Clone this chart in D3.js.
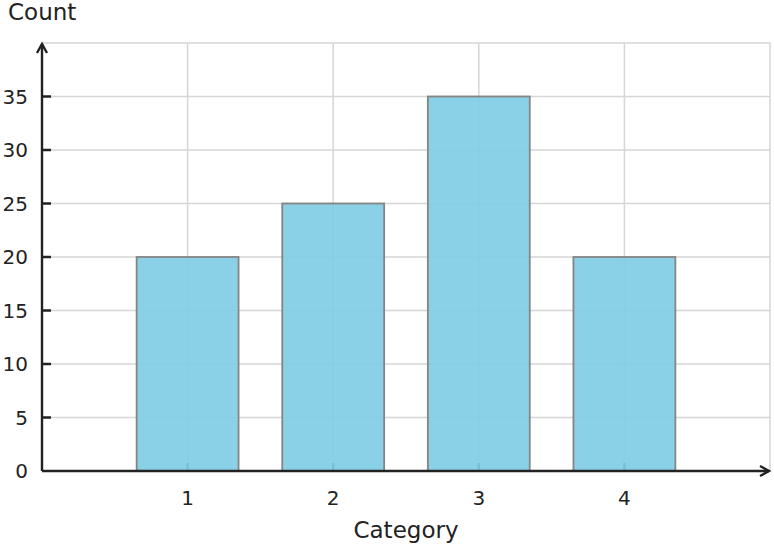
<!DOCTYPE html>
<html>
<head>
<meta charset="utf-8">
<script src="https://cdn.jsdelivr.net/npm/d3@7"></script>
<style>
  body { margin: 0; background: #fff; }
  text { font-family: "DejaVu Sans", sans-serif; fill: #222; }
</style>
</head>
<body>
<svg id="chart" width="774" height="548"></svg>
<script>
var categories = [1, 2, 3, 4];
var counts = [20, 25, 35, 20];
var yTicks = [0, 5, 10, 15, 20, 25, 30, 35];

var margin = {left: 42, top: 43, right: 4, bottom: 77};
var width = 774 - margin.left - margin.right;
var height = 548 - margin.top - margin.bottom;

var svg = d3.select('#chart');
var g = svg.append('g')
    .attr('transform', 'translate(' + margin.left + ',' + margin.top + ')');

var x = d3.scaleLinear().domain([0, 5]).range([0, width]);
var y = d3.scaleLinear().domain([0, 40]).range([height, 0]);

// grid
g.append('g').selectAll('line')
    .data(yTicks.slice(1)).enter().append('line')
    .attr('x1', 0).attr('x2', width)
    .attr('y1', function(d) { return y(d); })
    .attr('y2', function(d) { return y(d); })
    .style('stroke', '#d6d6d6').style('stroke-width', 1.5);

g.append('g').selectAll('line')
    .data(categories).enter().append('line')
    .attr('x1', function(d) { return x(d); })
    .attr('x2', function(d) { return x(d); })
    .attr('y1', 0).attr('y2', height)
    .style('stroke', '#d6d6d6').style('stroke-width', 1.5);

// frame top/right
g.append('path')
    .attr('d', 'M0,0H' + width + 'V' + height)
    .style('fill', 'none').style('stroke', '#d6d6d6').style('stroke-width', 1.5);

// inward ticks
g.append('g').selectAll('line')
    .data(yTicks.slice(1)).enter().append('line')
    .attr('x1', 0).attr('x2', 9)
    .attr('y1', function(d) { return y(d); })
    .attr('y2', function(d) { return y(d); })
    .style('stroke', '#222').style('stroke-width', 2.5);

g.append('g').selectAll('line')
    .data(categories).enter().append('line')
    .attr('x1', function(d) { return x(d); })
    .attr('x2', function(d) { return x(d); })
    .attr('y1', height).attr('y2', height - 8)
    .style('stroke', '#222').style('stroke-width', 2.5);

// tick labels
g.append('g').selectAll('text')
    .data(yTicks).enter().append('text')
    .attr('x', -14)
    .attr('y', function(d) { return y(d); })
    .attr('dy', '0.35em')
    .attr('text-anchor', 'end')
    .style('font-size', '20px')
    .text(function(d) { return d; });

g.append('g').selectAll('text')
    .data(categories).enter().append('text')
    .attr('x', function(d) { return x(d); })
    .attr('y', height + 34)
    .attr('text-anchor', 'middle')
    .style('font-size', '20px')
    .text(function(d) { return d; });

// bars
g.append('g').selectAll('rect')
    .data(categories).enter().append('rect')
    .attr('x', function(d) { return x(d - 0.35); })
    .attr('width', x(0.7) - x(0))
    .attr('y', function(d, i) { return y(counts[i]); })
    .attr('height', function(d, i) { return y(0) - y(counts[i]); })
    .style('fill', '#80cde6').style('fill-opacity', 0.92)
    .style('stroke', '#858585').style('stroke-width', 1.8);

// axis lines with open arrow heads
g.append('path')
    .attr('d', 'M0,' + height + 'H' + (width - 1))
    .style('stroke', '#222').style('stroke-width', 2.4).style('fill', 'none');
g.append('path')
    .attr('d', 'M' + (width - 10) + ',' + (height - 5) + 'L' + (width - 1) + ',' + height +
               'L' + (width - 10) + ',' + (height + 5))
    .style('stroke', '#222').style('stroke-width', 2.4).style('fill', 'none');
g.append('path')
    .attr('d', 'M0,' + height + 'V1')
    .style('stroke', '#222').style('stroke-width', 2.4).style('fill', 'none');
g.append('path')
    .attr('d', 'M-5,10L0,1L5,10')
    .style('stroke', '#222').style('stroke-width', 2.4).style('fill', 'none');

// axis titles
svg.append('text')
    .attr('x', 8).attr('y', 20)
    .style('font-size', '23px')
    .text('Count');

svg.append('text')
    .attr('x', 406).attr('y', 538)
    .attr('text-anchor', 'middle')
    .style('font-size', '23px')
    .text('Category');
</script>
</body>
</html>
